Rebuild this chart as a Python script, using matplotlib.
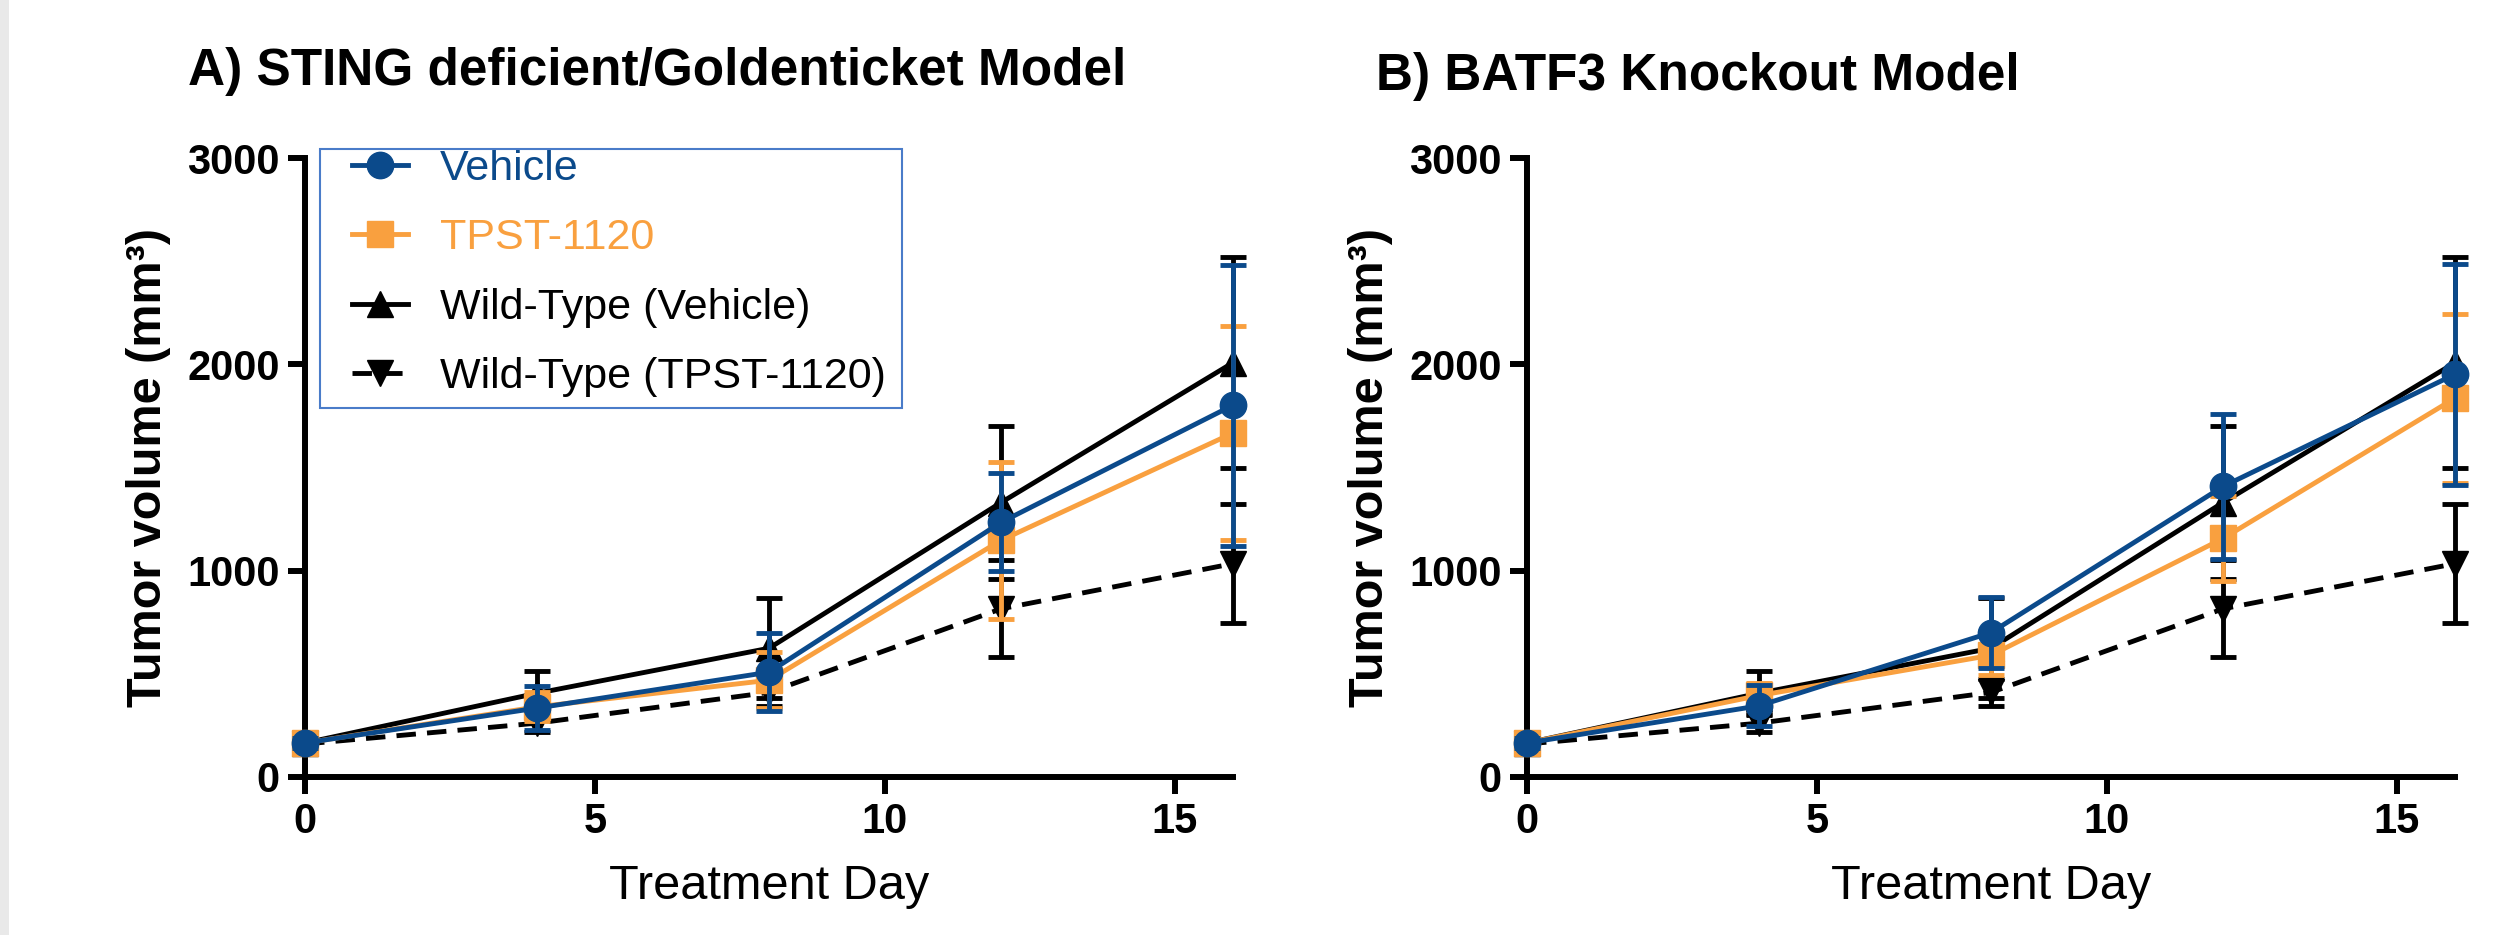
import matplotlib
matplotlib.use("Agg")
import matplotlib.pyplot as plt
from matplotlib.patches import Rectangle

plt.rcParams['font.family'] = ['Liberation Sans', 'DejaVu Sans']

# data (mean tumor volume, mm^3, and error bar half-length)
days = [0, 4, 8, 12, 16]

veh_a = [165, 334, 508, 1234, 1802]
veh_a_err = [25, 108, 190, 238, 681]
tpst_a = [165, 340, 469, 1147, 1667]
tpst_a_err = [30, 70, 135, 382, 520]

veh_b = [165, 345, 700, 1408, 1952]
veh_b_err = [25, 100, 172, 353, 535]
tpst_b = [165, 395, 590, 1156, 1836]
tpst_b_err = [30, 60, 97, 208, 410]

# wild-type groups are the same in both panels
wt_veh = [165, 406, 624, 1330, 2008]
wt_veh_err = [20, 106, 242, 370, 510]
wt_tpst = [160, 261, 410, 815, 1034]
wt_tpst_err = [15, 45, 65, 235, 290]

titles = ['A) STING deficient/Goldenticket Model', 'B) BATF3 Knockout Model']
labels = ['Vehicle', 'TPST-1120', 'Wild-Type (Vehicle)', 'Wild-Type (TPST-1120)']
xticks = [0, 5, 10, 15]
yticks = [0, 1000, 2000, 3000]

BLUE = '#0b4a8b'
ORANGE = '#f9a03f'
BLACK = 'black'

W, H = 2502, 935
fig = plt.figure(figsize=(W / 100, H / 100), dpi=100)

# light grey strip on the left edge
fig.patches.append(Rectangle((0, 0), 9 / W, 1, transform=fig.transFigure,
                             facecolor='#e9e9e9', edgecolor='none'))

ax_a = fig.add_axes([305 / W, 158 / H, 928 / W, 619 / H])
ax_b = fig.add_axes([1527 / W, 158 / H, 928 / W, 619 / H])

lw = 3.5
ms = 19
cap = 9.7
dash = (0, (4, 2.3))


def draw_panel(ax, veh, veh_err, tpst, tpst_err):
    series = [
        (wt_tpst, wt_tpst_err, BLACK, 'v', dash, labels[3], 2),
        (wt_veh, wt_veh_err, BLACK, '^', '-', labels[2], 3),
        (tpst, tpst_err, ORANGE, 's', '-', labels[1], 4),
        (veh, veh_err, BLUE, 'o', '-', labels[0], 5),
    ]
    handles = {}
    for y, err, col, mk, ls, lab, z in series:
        ax.errorbar(days, y, yerr=err, fmt='none', ecolor=col, elinewidth=lw,
                    capsize=cap, capthick=lw, zorder=z, clip_on=False)
        line, = ax.plot(days, y, color=col, lw=lw, ls=ls, marker=mk, ms=ms,
                        mec=col, mfc=col, label=lab, zorder=z + 0.5, clip_on=False)
        handles[lab] = line

    ax.set_xlim(0, 16)
    ax.set_ylim(0, 3000)
    ax.set_xticks(xticks)
    ax.set_yticks(yticks)
    for s in ['top', 'right']:
        ax.spines[s].set_visible(False)
    for s in ['left', 'bottom']:
        ax.spines[s].set_linewidth(4.3)
    ax.tick_params(width=4.3, length=12, labelsize=30, pad=6)
    for t in ax.get_xticklabels() + ax.get_yticklabels():
        t.set_fontweight('bold')
    ax.set_xlabel('Treatment Day', fontsize=35, labelpad=16)
    ax.set_ylabel('Tumor volume (mm³)', fontsize=35, fontweight='bold', labelpad=12)
    return handles


h = draw_panel(ax_a, veh_a, veh_a_err, tpst_a, tpst_a_err)
draw_panel(ax_b, veh_b, veh_b_err, tpst_b, tpst_b_err)

# legend in panel A, with a plain blue box drawn around it
leg = ax_a.legend([h[l] for l in labels], labels, loc='upper left',
                  bbox_to_anchor=(47 / 928, 1.0145), borderaxespad=0, borderpad=0,
                  frameon=False, fontsize=31, handlelength=1.3, handletextpad=0.75,
                  labelspacing=0.68)
for txt, col in zip(leg.get_texts(), [BLUE, ORANGE, BLACK, BLACK]):
    txt.set_color(col)
ax_a.add_patch(Rectangle((15 / 928, (777 - 408) / 619), (902 - 320) / 928, 259 / 619,
                         transform=ax_a.transAxes, facecolor='none',
                         edgecolor='#4a7cc9', lw=1.5, clip_on=False, zorder=6))

fig.text(188 / W, 1 - 85 / H, titles[0], fontsize=37, fontweight='bold', va='baseline')
fig.text(1376 / W, 1 - 90 / H, titles[1], fontsize=37, fontweight='bold', va='baseline')

fig.savefig('out.png', dpi=100)
